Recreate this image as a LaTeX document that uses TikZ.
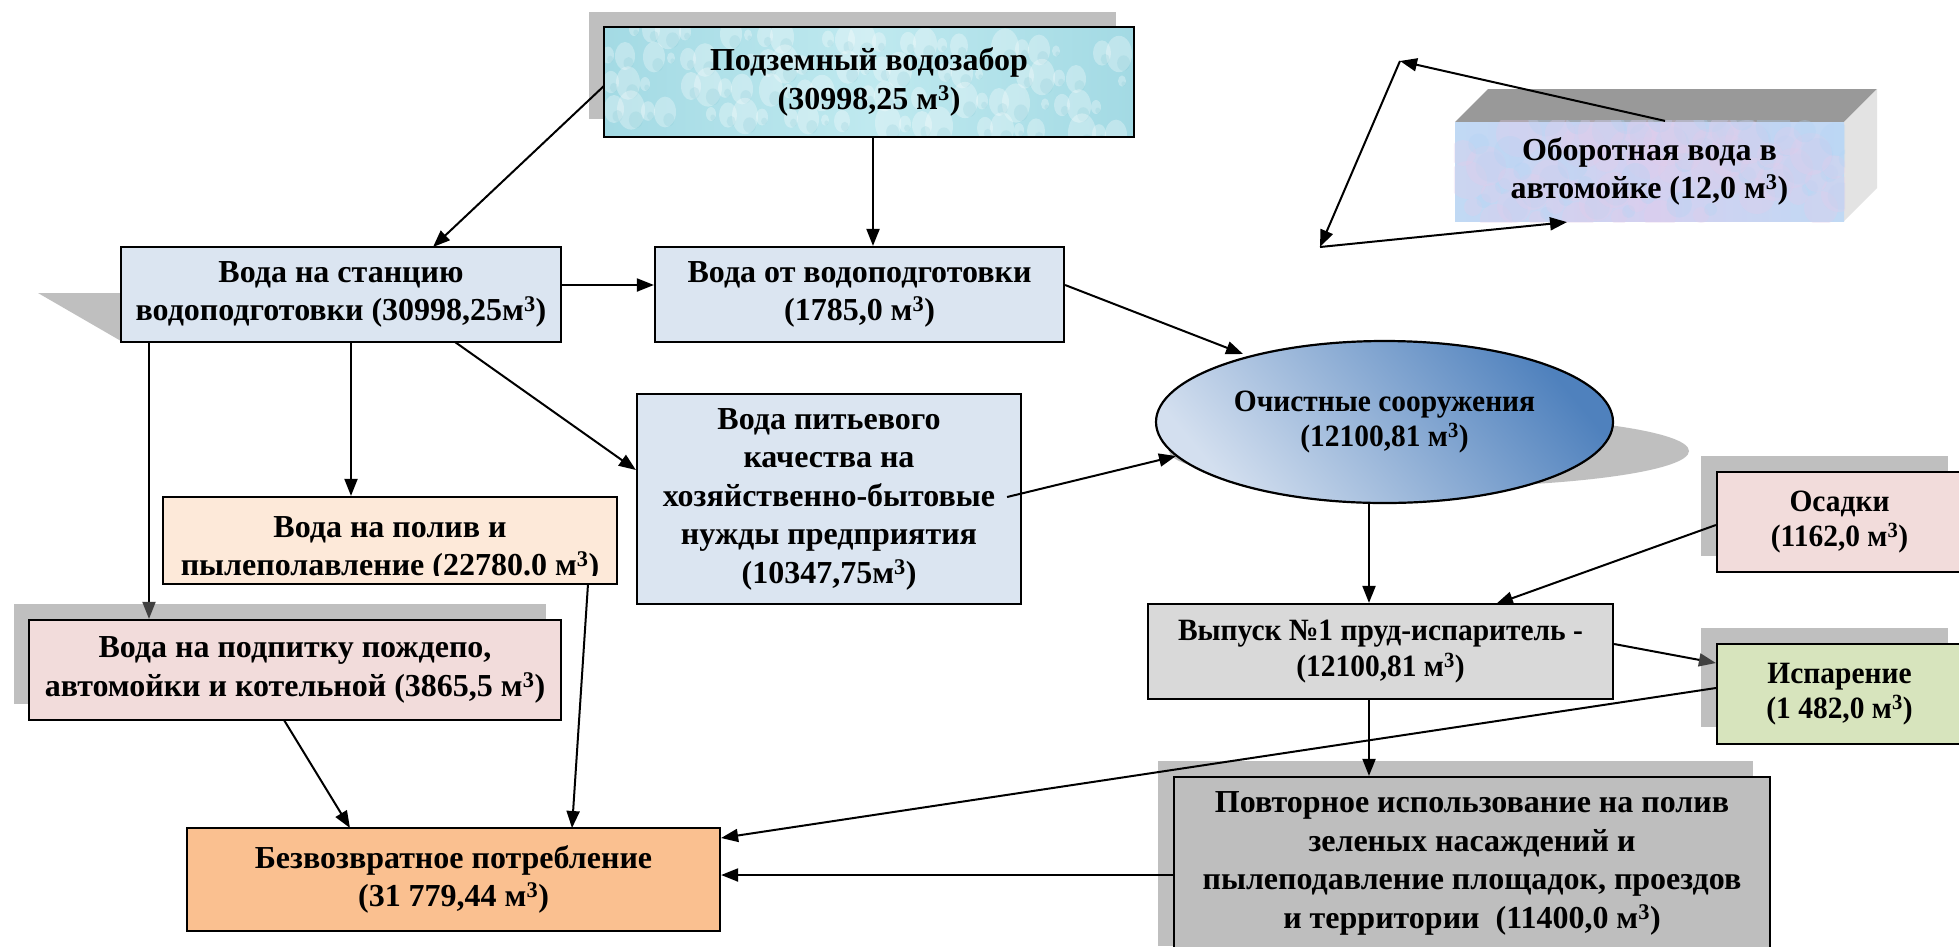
\documentclass[tikz,border=0pt]{standalone}
\usepackage{fontspec}
\setmainfont{Liberation Serif}
\newfontfamily\condfont{Liberation Serif}[FakeStretch=0.95]
\usetikzlibrary{arrows.meta,shapes.geometric,calc}
\definecolor{shadowgray}{HTML}{BFBFBF}
\definecolor{bluebox}{HTML}{DBE5F1}
\definecolor{peach}{HTML}{FDE9D9}
\definecolor{pinkbox}{HTML}{F2DCDB}
\definecolor{orangebox}{HTML}{FAC090}
\definecolor{graybox}{HTML}{D9D9D9}
\definecolor{greenbox}{HTML}{D7E4BD}
\definecolor{darkgraybox}{HTML}{BEBEBE}
\definecolor{topface}{HTML}{999999}
\definecolor{sideface}{HTML}{E3E3E3}
\definecolor{waterA}{HTML}{A3DAE4}
\definecolor{waterB}{HTML}{BFE9EF}
\definecolor{waterD}{HTML}{6FBCCB}
\definecolor{lavA}{HTML}{C0D9F4}
\definecolor{lavB}{HTML}{D4D0F0}
\definecolor{lavPink}{HTML}{E4CCEA}
\definecolor{lavBlue}{HTML}{B2D4F4}
\definecolor{ellDark}{HTML}{4F81BD}
\definecolor{ellLight}{HTML}{D3DFEF}
\definecolor{tipgray}{HTML}{404040}
\begin{document}
\begin{tikzpicture}[x=1pt,y=-1pt,
  box/.style={draw=black, line width=2.2pt, rectangle, inner sep=0pt, align=center,
    font=\fontsize{32}{38.5}\selectfont\bfseries},
  cbox/.style={box, font=\fontsize{31}{35.5}\selectfont\condfont\bfseries},
  txt/.style={inner sep=0pt, align=center, font=\fontsize{32}{38.5}\selectfont\bfseries},
  arr/.style={draw=black, line width=2pt, -{Triangle[length=17pt,width=13pt]}},
  garr/.style={draw=black, line width=2pt, -{Triangle[length=17pt,width=13pt,color=tipgray]}}
]
\useasboundingbox (0,0) rectangle (1959,946);
\fill[white] (0,0) rectangle (1959,946);

% shadows
\fill[shadowgray] (589,12) rectangle (1116,119);
\fill[shadowgray] (38,293) -- (121,293) -- (121,341) -- cycle;
\fill[shadowgray] (14,604) rectangle (546,704);
\fill[shadowgray] (1701,456) rectangle (1948,556);
\fill[shadowgray] (1701,628) rectangle (1948,727);
\fill[shadowgray] (1158,761) rectangle (1753,946);
\fill[shadowgray] (1429,451) ellipse [x radius=260pt, y radius=36pt];

% 3D box faces
\fill[topface] (1455,122) -- (1488,89) -- (1877,89) -- (1844,122) -- cycle;
\fill[sideface] (1844,122) -- (1877,89) -- (1877,188) -- (1844,221) -- cycle;

% water box with drop texture
\node[box, draw=none, left color=waterA, right color=waterA, middle color=waterB,
  minimum width=528pt, minimum height=108pt] (podz) at (869,82) {};
\begin{scope}
  \clip (podz.south west) rectangle (podz.north east);
  \foreach \i in {1,...,90}{
    \pgfmathsetmacro\px{605+mod(\i*137,528)}
    \pgfmathsetmacro\py{28+mod(\i*61,108)}
    \pgfmathsetmacro\pr{4+mod(\i*7,11)}
    \fill[white, opacity=0.30] (\px,\py) ellipse [x radius=\pr pt, y radius=1.4*\pr pt];
    \fill[waterD, opacity=0.16] (\px+0.35*\pr,\py+0.7*\pr) ellipse [x radius=0.5*\pr pt, y radius=0.6*\pr pt];
  }
\end{scope}
\draw[line width=2.2pt] (podz.south west) rectangle (podz.north east);
\node[txt] (podztxt) at (podz.center) {Подземный водозабор\\(30998,25 м\textsuperscript{3})};

\node[box, fill=bluebox, minimum width=440pt, minimum height=95pt] (stan) at (341,294.5)
  {Вода на станцию\\водоподготовки (30998,25м\textsuperscript{3})};
\node[box, fill=bluebox, minimum width=409pt, minimum height=95pt] (otv) at (859.5,294.5)
  {Вода от водоподготовки\\(1785,0 м\textsuperscript{3})};
\node[box, fill=bluebox, minimum width=384pt, minimum height=210pt] (pit) at (829,499)
  {Вода питьевого\\качества на\\хозяйственно-бытовые\\нужды предприятия\\(10347,75м\textsuperscript{3})};
\node[box, fill=peach, minimum width=454pt, minimum height=87pt] (poliv) at (390,540.5) {};
\begin{scope}
  \clip (poliv.north west) rectangle ([yshift=10pt]poliv.south east);
  \node[txt] (polivtxt) at ([yshift=-9pt]poliv.center)
    {Вода на полив и\\пылеполавление (22780.0 м\textsuperscript{3})};
\end{scope}
\node[box, fill=pinkbox, minimum width=532pt, minimum height=100pt] (podp) at (295,670)
  {Вода на подпитку пождепо,\\автомойки и котельной (3865,5 м\textsuperscript{3})};
\node[box, fill=orangebox, minimum width=533pt, minimum height=103pt] (bezv) at (453.5,879.5)
  {Безвозвратное потребление\\(31 779,44 м\textsuperscript{3})};
\node[cbox, ellipse, top color=ellDark, bottom color=ellLight, shading angle=-50,
  minimum width=457pt, minimum height=162pt] (ell) at (1384.5,422)
  {Очистные сооружения\\(12100,81 м\textsuperscript{3})};
\node[cbox, fill=graybox, minimum width=465pt, minimum height=95pt] (vyp) at (1380.5,651.5)
  {Выпуск №1 пруд-испаритель -\\(12100,81 м\textsuperscript{3})};
\node[cbox, fill=pinkbox, minimum width=245pt, minimum height=100pt] (osad) at (1839.5,522)
  {Осадки\\(1162,0 м\textsuperscript{3})};
\node[cbox, fill=greenbox, minimum width=245pt, minimum height=100pt] (isp) at (1839.5,694)
  {Испарение\\(1 482,0 м\textsuperscript{3})};
\node[box, fill=darkgraybox, minimum width=596pt, minimum height=173pt] (povt) at (1472,863.5)
  {Повторное использование на полив\\зеленых насаждений и\\пылеподавление площадок, проездов\\и территории~~(11400,0 м\textsuperscript{3})};

% 3D box front face with mottled texture
\node[box, draw=none, left color=lavA, right color=lavA, middle color=lavB,
  minimum width=389pt, minimum height=99pt] (obor) at (1649.5,171.5) {};
\begin{scope}
  \clip (obor.south west) rectangle (obor.north east);
  \foreach \i in {1,...,50}{
    \pgfmathsetmacro\px{1455+mod(\i*151,389)}
    \pgfmathsetmacro\py{122+mod(\i*37,99)}
    \pgfmathsetmacro\pr{8+mod(\i*5,16)}
    \fill[lavPink, opacity=0.30] (\px,\py) circle [radius=\pr pt];
    \fill[lavBlue, opacity=0.30] (\px+1.2*\pr,\py-0.7*\pr) circle [radius=0.8*\pr pt];
  }
\end{scope}
\node[txt] (obortxt) at (obor.center) {Оборотная вода в\\автомойке (12,0 м\textsuperscript{3})};

% cycle coordinates
\coordinate (cA) at (1400,61);
\coordinate (cB) at (1320,247);

% connectors
\draw[arr] (podz.west |- 0,86) -- (433,247);
\draw[arr] (podz.south -| 873,0) -- (otv.north -| 873,0);
\draw[arr] (stan.east |- 0,285) -- (otv.west |- 0,285);
\draw[arr] (otv.east |- 0,285) -- (1243,354);
\draw[arr] (455,342) -- (pit.west |- 0,470);
\draw[arr] (stan.south -| 351,0) -- (poliv.north -| 351,0);
\draw[garr] (stan.south -| 149,0) -- (podp.north -| 149,0);
\draw[arr] ([xshift=-15pt]pit.east |- 0,497) -- (1176,456);
\draw[arr] (ell.south -| 1369,0) -- (vyp.north -| 1369,0);
\draw[arr] (osad.west |- 0,525) -- (1496,604);
\draw[garr] (vyp.east |- 0,644) -- (isp.west |- 0,663);
\draw[arr] (isp.west |- 0,688) -- (bezv.east |- 0,838);
\draw[arr] (vyp.south -| 1369,0) -- (povt.north -| 1369,0);
\draw[arr] (povt.west |- 0,875) -- (bezv.east |- 0,875);
\draw[arr] (588,584) -- (572,828);
\draw[arr] (284,720) -- (350,828);
\draw[arr] ([xshift=15.5pt]obor.north) -- (cA);
\draw[arr] (cA) -- (cB);
\draw[arr] (cB) -- ([xshift=-82.5pt]obor.south);
\end{tikzpicture}
\end{document}
